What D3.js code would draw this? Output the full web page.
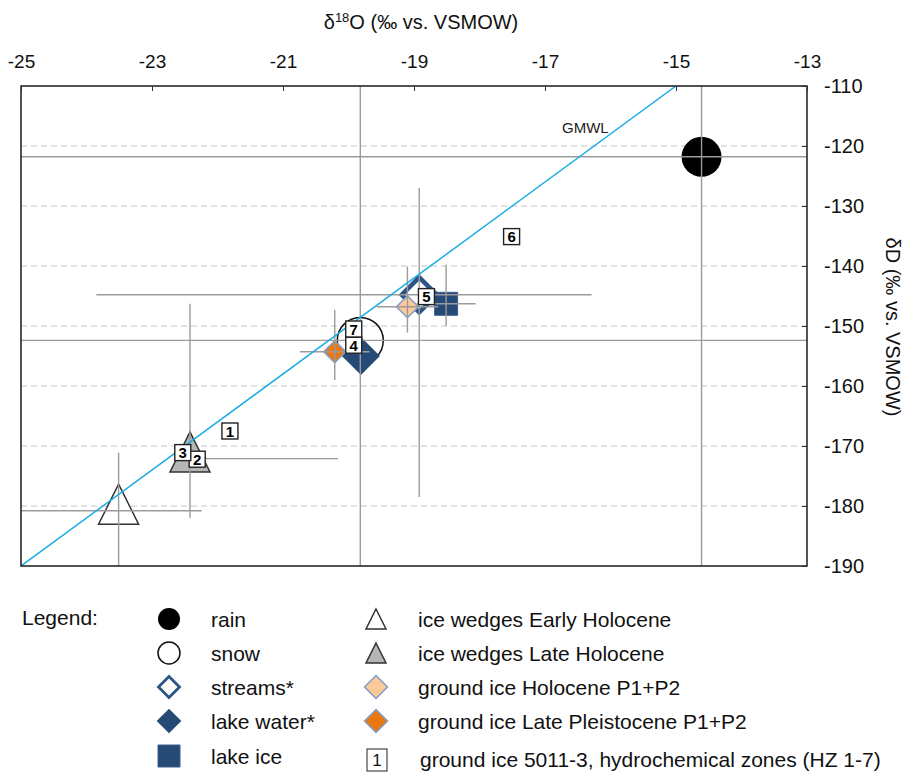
<!DOCTYPE html>
<html>
<head>
<meta charset="utf-8">
<script src="https://cdn.jsdelivr.net/npm/d3@7"></script>
<style>
  body { margin: 0; background: #fff; }
  svg { display: block; font-family: "Liberation Sans", Arial, sans-serif; }
</style>
</head>
<body>
<svg id="chart" width="912" height="774"></svg>
<script>
// groups of samples (permil vs. VSMOW)
var groups = ["rain", "snow", "streams*", "lake water*", "lake ice",
  "ice wedges Early Holocene", "ice wedges Late Holocene",
  "ground ice Holocene P1+P2", "ground ice Late Pleistocene P1+P2"];
var d18O = [-14.61, -19.82, -18.92, -19.81, -18.51, -23.51, -22.42, -19.10, -20.21];
var dD   = [-121.8, -152.4, -144.8, -155.0, -146.3, -180.8, -172.1, -146.8, -154.3];

// spread bars (min / max), null = no bar
var d18OLow  = [-30, -30, -23.85, null, -18.96, -25.3, -22.42, -19.57, -20.74];
var d18OHigh = [-10, -10, -16.29, null, -18.06, -22.24, -20.16, -18.63, -19.68];
var dDLow    = [-200, -200, -178.5, null, -150.0, -195, -182.0, -151.1, -159.0];
var dDHigh   = [-100, -100, -127.0, null, -139.8, -171.1, -146.3, -140.1, -147.3];

// ground ice core 5011-3, hydrochemical zones
var zones = [1, 2, 3, 4, 5, 6, 7];
var zoneD18O = [-21.81, -22.31, -22.53, -19.92, -18.81, -17.51, -19.92];
var zoneDD   = [-167.5, -172.2, -171.1, -153.2, -145.1, -135.1, -150.5];

// global meteoric water line  dD = 8 * d18O + 10
var gmwlD18O = [-25, -15];

var xTicks = [-25, -23, -21, -19, -17, -15, -13];
var yTicks = [-110, -120, -130, -140, -150, -160, -170, -180, -190];

var styles = [
  {shape: "circle",   size: 20,   leg: 11,   fill: "#000",    stroke: "none",    sw: 0},
  {shape: "circle",   size: 23,   leg: 11,   fill: "none",    stroke: "#111",    sw: 1.5},
  {shape: "diamond",  size: 17.5, leg: 10.5, fill: "none",    stroke: "#2c5586", sw: 4.5, legSw: 2.8},
  {shape: "diamond",  size: 19,   leg: 12.3, fill: "#254a75", stroke: "none",    sw: 0},
  {shape: "square",   size: 23,   leg: 22,   fill: "#254a75", stroke: "#3d5f8c", sw: 1},
  {shape: "triangle", size: 40,   leg: 20,   fill: "#fff",    stroke: "#333",    sw: 1.5},
  {shape: "triangle", size: 40,   leg: 20,   fill: "#b5b5b5", stroke: "#333",    sw: 1.5},
  {shape: "diamond",  size: 11,   leg: 11.5, fill: "#fcc998", stroke: "#7f9ecb", sw: 1.5},
  {shape: "diamond",  size: 11,   leg: 11.5, fill: "#e8770f", stroke: "#7f9ecb", sw: 1.5}
];

function symbolPath(shape, s) {
  var p = d3.path();
  if (shape === "circle") {
    p.moveTo(s, 0); p.arc(0, 0, s, 0, 2 * Math.PI);
  } else if (shape === "diamond") {
    p.moveTo(0, -s); p.lineTo(s, 0); p.lineTo(0, s); p.lineTo(-s, 0);
  } else if (shape === "square") {
    p.rect(-s / 2, -s / 2, s, s);
  } else if (shape === "triangle") {
    // centred on the centroid, like the spreadsheet marker
    p.moveTo(0, -2 * s / 3); p.lineTo(s / 2, s / 3); p.lineTo(-s / 2, s / 3);
  }
  p.closePath();
  return p.toString();
}

var svg = d3.select("#chart");

var x = d3.scaleLinear().domain([-25, -13]).range([21, 807]);
var y = d3.scaleLinear().domain([-110, -190]).range([86, 566]);

svg.append("defs").append("clipPath").attr("id", "plot")
  .append("rect")
  .attr("x", x(-25)).attr("y", y(-110))
  .attr("width", x(-13) - x(-25)).attr("height", y(-190) - y(-110));

// dashed horizontal grid
svg.append("g")
  .selectAll("line")
  .data(yTicks.slice(1, -1))
  .enter()
  .append("line")
  .attr("x1", x(-25)).attr("x2", x(-13))
  .attr("y1", function(d) { return y(d); })
  .attr("y2", function(d) { return y(d); })
  .attr("stroke", "#c4c4c4")
  .attr("stroke-dasharray", "6,4");

// markers
var idx = d3.range(groups.length);
svg.append("g")
  .selectAll("path")
  .data(idx)
  .enter()
  .append("path")
  .attr("transform", function(i) { return "translate(" + x(d18O[i]) + "," + y(dD[i]) + ")"; })
  .attr("d", function(i) { return symbolPath(styles[i].shape, styles[i].size); })
  .attr("fill", function(i) { return styles[i].fill; })
  .attr("stroke", function(i) { return styles[i].stroke; })
  .attr("stroke-width", function(i) { return styles[i].sw; })
  .attr("stroke-linejoin", "miter");

// spread bars, on top of markers
var bars = svg.append("g").attr("clip-path", "url(#plot)")
  .attr("stroke", "#9b9b9b").attr("stroke-width", 1.4);
var withBars = idx.filter(function(i) { return d18OLow[i] !== null; });

bars.selectAll("line.h")
  .data(withBars)
  .enter()
  .append("line")
  .classed("h", true)
  .attr("x1", function(i) { return x(d18OLow[i]); })
  .attr("x2", function(i) { return x(d18OHigh[i]); })
  .attr("y1", function(i) { return y(dD[i]); })
  .attr("y2", function(i) { return y(dD[i]); });

bars.selectAll("line.v")
  .data(withBars)
  .enter()
  .append("line")
  .classed("v", true)
  .attr("x1", function(i) { return x(d18O[i]); })
  .attr("x2", function(i) { return x(d18O[i]); })
  .attr("y1", function(i) { return y(dDLow[i]); })
  .attr("y2", function(i) { return y(dDHigh[i]); });

// GMWL
svg.append("line")
  .attr("clip-path", "url(#plot)")
  .attr("x1", x(gmwlD18O[0])).attr("y1", y(8 * gmwlD18O[0] + 10))
  .attr("x2", x(gmwlD18O[1])).attr("y2", y(8 * gmwlD18O[1] + 10))
  .attr("stroke", "#1badE4")
  .attr("stroke-width", 1.5);

svg.append("text")
  .attr("x", x(-16.74)).attr("y", y(-117.8))
  .attr("font-size", 15).attr("fill", "#222")
  .text("GMWL");

// zone boxes
var zoneG = svg.append("g")
  .selectAll("g")
  .data(zones)
  .enter()
  .append("g")
  .attr("transform", function(d, i) { return "translate(" + x(zoneD18O[i]) + "," + y(zoneDD[i]) + ")"; });
zoneG.append("rect")
  .attr("x", -8).attr("y", -8).attr("width", 16).attr("height", 16)
  .attr("fill", "#fff").attr("stroke", "#222").attr("stroke-width", 1.4);
zoneG.append("text")
  .attr("text-anchor", "middle").attr("dy", "0.37em")
  .attr("font-size", 15).attr("font-weight", "bold")
  .text(function(d) { return d; });

// frame
svg.append("rect")
  .attr("x", x(-25)).attr("y", y(-110))
  .attr("width", x(-13) - x(-25)).attr("height", y(-190) - y(-110))
  .attr("fill", "none").attr("stroke", "#1a1a1a").attr("stroke-width", 1.5);

// axes: top = d18O, right = dD
var xAxis = svg.append("g")
  .attr("transform", "translate(0," + y(-110) + ")")
  .call(d3.axisTop(x).tickValues(xTicks).tickFormat(d3.format("d"))
    .tickSizeInner(-5).tickSizeOuter(0).tickPadding(18));
var yAxis = svg.append("g")
  .attr("transform", "translate(" + x(-13) + ",0)")
  .call(d3.axisRight(y).tickValues(yTicks).tickFormat(d3.format("d"))
    .tickSizeInner(-5).tickSizeOuter(0).tickPadding(17));

[xAxis, yAxis].forEach(function(a) {
  a.select(".domain").remove();
  a.selectAll("line").attr("stroke", "#333");
  a.selectAll("text").attr("font-size", 20).attr("fill", "#111")
    .attr("font-family", "Liberation Sans, Arial, sans-serif");
});
xAxis.selectAll("text").attr("font-size", 19);
// d3.format gives a unicode minus, the figure uses a hyphen
xAxis.selectAll("text").text(function(d) { return String(d); });
yAxis.selectAll("text").text(function(d) { return String(d); });

// axis titles
var t = svg.append("text")
  .attr("x", 421).attr("y", 29)
  .attr("text-anchor", "middle").attr("font-size", 20).attr("fill", "#111");
t.append("tspan").text("\u03b4");
t.append("tspan").attr("font-size", 13).attr("dy", -7).text("18");
t.append("tspan").attr("dy", 7).text("O (\u2030 vs. VSMOW)");

svg.append("text")
  .attr("transform", "translate(886,327) rotate(90)")
  .attr("text-anchor", "middle").attr("font-size", 20).attr("fill", "#111")
  .text("\u03b4D (\u2030 vs. VSMOW)");

// legend
var legRows = [620, 654, 688, 722, 757];
var legend = svg.append("g").attr("font-size", 21).attr("fill", "#111");

legend.append("text").attr("x", 22).attr("y", 625).text("Legend:");

var legItems = idx.map(function(i) {
  var col = i < 5 ? 0 : 1;
  return {i: i, sx: col ? 376 : 169, tx: col ? 418 : 211, y: legRows[col ? i - 5 : i]};
});

var li = legend.selectAll("g.item")
  .data(legItems)
  .enter()
  .append("g")
  .classed("item", true);

li.append("path")
  .attr("transform", function(d) {
    var off = styles[d.i].shape === "triangle" ? styles[d.i].leg / 6 : 0;
    return "translate(" + d.sx + "," + (d.y - 1 + off) + ")";
  })
  .attr("d", function(d) { return symbolPath(styles[d.i].shape, styles[d.i].leg); })
  .attr("fill", function(d) { return styles[d.i].fill === "none" ? "#fff" : styles[d.i].fill; })
  .attr("stroke", function(d) { return styles[d.i].stroke; })
  .attr("stroke-width", function(d) { return styles[d.i].legSw || styles[d.i].sw; });

li.append("text")
  .attr("x", function(d) { return d.tx; })
  .attr("y", function(d) { return d.y + 7; })
  .text(function(d) { return groups[d.i]; });

// zone legend entry
legend.append("rect")
  .attr("x", 377 - 10).attr("y", 760 - 11).attr("width", 20).attr("height", 22)
  .attr("fill", "#fff").attr("stroke", "#222").attr("stroke-width", 1);
legend.append("text")
  .attr("x", 377).attr("y", 760).attr("dy", "0.35em")
  .attr("text-anchor", "middle").attr("font-size", 17)
  .text(zones[0]);
legend.append("text")
  .attr("x", 420).attr("y", 767)
  .text("ground ice 5011-3, hydrochemical zones (HZ 1-7)");
</script>
</body>
</html>
